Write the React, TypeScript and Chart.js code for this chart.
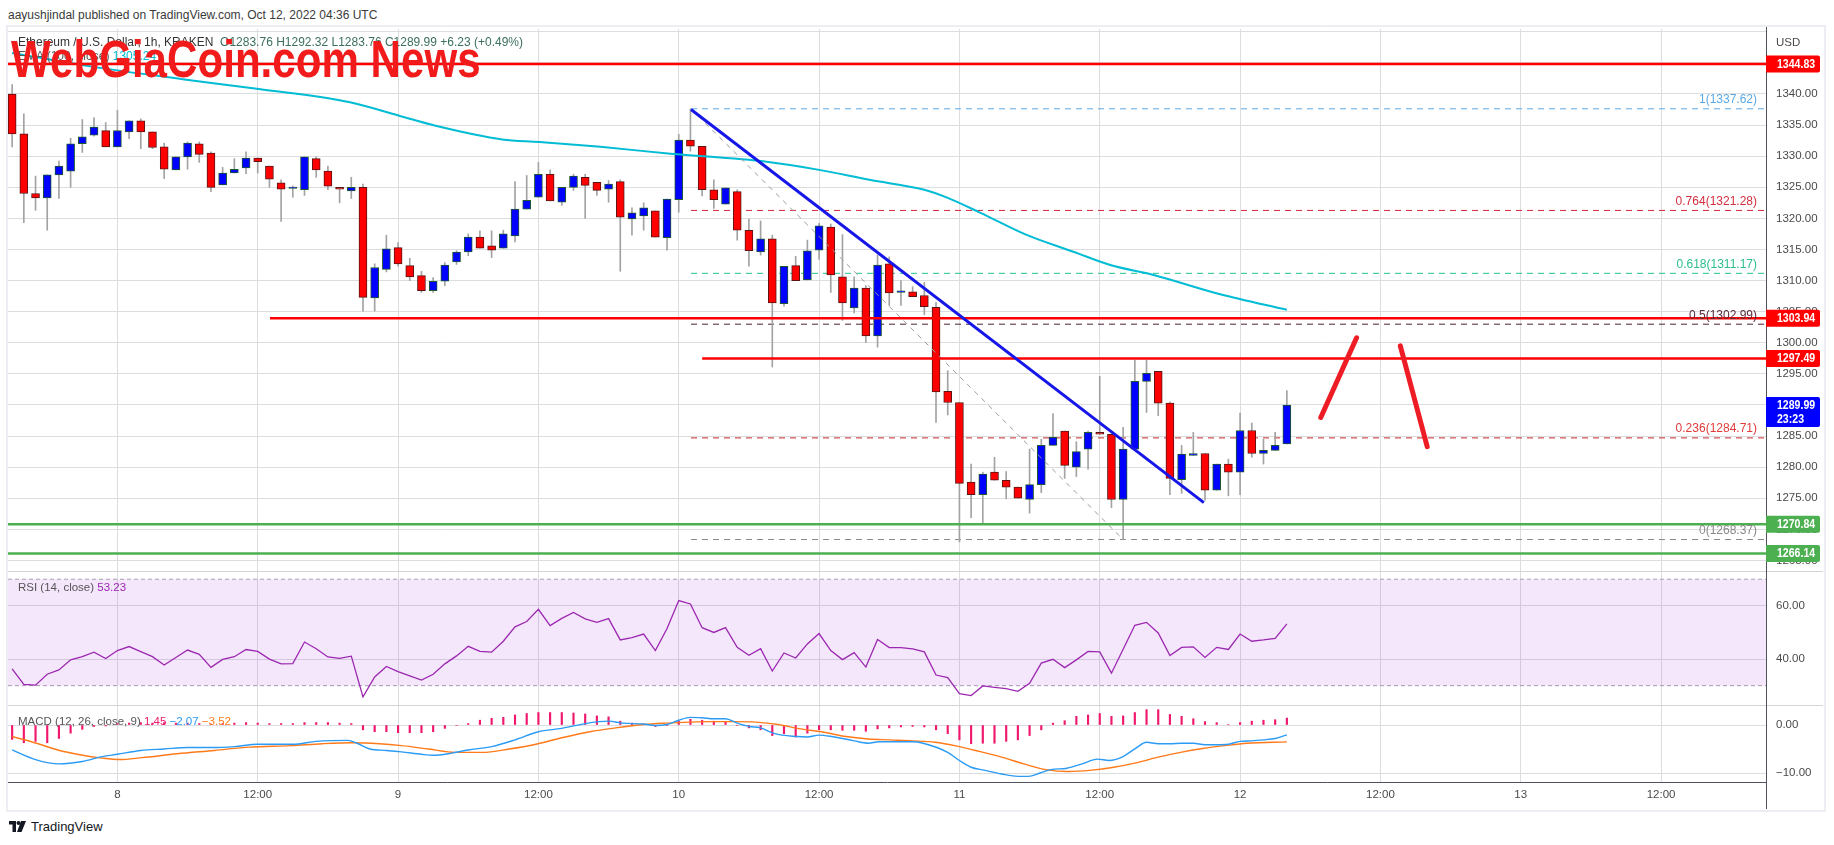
import React, { useEffect, useRef } from 'react';
import { Chart, registerables } from 'chart.js';
Chart.register(...registerables);

const FONT = "'Liberation Sans', Arial, sans-serif";

// ---- time axis (hours since Oct 8 00:00 UTC) ----
const FIRST_HOUR = -9; // first candle: Oct 7 15:00
const X_MIN = -9.354;
const X_MAX = 140.97;
const X_TICK_HOURS = [0, 12, 24, 36, 48, 60, 72, 84, 96, 108, 120, 132];
const X_TICK_LABELS = ['8', '12:00', '9', '12:00', '10', '12:00', '11', '12:00', '12', '12:00', '13', '12:00'];

// ---- candles (1h ETH/USD) ----
const OPEN = [
  1340.0, 1333.6, 1324.0, 1323.3, 1327.0, 1327.6, 1332.0, 1333.4, 1334.1, 1331.5,
  1333.9, 1335.7, 1333.9, 1331.5, 1327.8, 1329.9, 1332.0, 1330.5, 1325.4, 1327.3,
  1328.1, 1329.7, 1328.4, 1325.7, 1324.8, 1324.6, 1329.6, 1327.6, 1325.0, 1324.4,
  1325.0, 1307.2, 1311.8, 1315.3, 1312.4, 1310.8, 1308.4, 1309.9, 1313.0, 1314.6,
  1317.0, 1315.6, 1315.2, 1317.2, 1321.5, 1323.4, 1327.1, 1322.6, 1325.0, 1326.6,
  1325.8, 1324.7, 1325.9, 1319.9, 1320.4, 1321.2, 1316.9, 1323.0, 1332.6, 1331.6,
  1324.6, 1322.3, 1324.3, 1318.1, 1314.6, 1316.7, 1306.3, 1312.4, 1310.1, 1314.9,
  1318.6, 1310.6, 1305.6, 1308.8, 1301.1, 1312.7, 1308.1, 1308.2, 1307.6, 1305.7,
  1292.2, 1290.4, 1277.6, 1275.6, 1279.2, 1277.9, 1276.8, 1274.8, 1277.2, 1283.5,
  1285.8, 1280.0, 1282.9, 1285.6, 1285.3, 1274.8, 1282.9, 1293.8, 1295.4, 1290.3,
  1278.0, 1281.9, 1282.2, 1276.3, 1280.5, 1279.2, 1285.9, 1282.2, 1282.7, 1283.76,
];
const HIGH = [
  1341.5, 1336.8, 1326.8, 1327.0, 1329.2, 1332.9, 1335.9, 1336.2, 1335.4, 1337.4,
  1335.7, 1336.0, 1333.9, 1332.1, 1329.9, 1332.3, 1332.3, 1330.7, 1328.2, 1329.6,
  1330.7, 1329.7, 1328.4, 1326.2, 1325.2, 1329.9, 1329.9, 1328.4, 1325.0, 1326.6,
  1325.5, 1312.7, 1317.3, 1316.1, 1313.6, 1311.5, 1310.5, 1312.9, 1314.8, 1317.5,
  1318.0, 1318.0, 1318.1, 1325.9, 1326.9, 1329.0, 1327.8, 1325.0, 1327.1, 1327.1,
  1325.8, 1326.1, 1326.2, 1321.7, 1322.5, 1321.2, 1323.1, 1333.5, 1337.6, 1331.6,
  1326.2, 1324.9, 1324.6, 1319.9, 1319.6, 1317.3, 1312.3, 1313.9, 1316.5, 1319.2,
  1319.1, 1317.4, 1310.6, 1309.2, 1314.1, 1313.8, 1310.0, 1309.0, 1309.7, 1306.5,
  1295.5, 1290.4, 1280.5, 1279.2, 1281.6, 1279.3, 1276.8, 1282.9, 1284.5, 1288.6,
  1285.8, 1284.1, 1285.8, 1294.6, 1285.3, 1286.4, 1297.2, 1297.2, 1295.4, 1290.5,
  1283.5, 1285.6, 1282.2, 1280.5, 1281.3, 1288.7, 1287.1, 1284.5, 1285.6, 1292.32,
];
const LOW = [
  1331.5, 1319.3, 1321.3, 1318.1, 1323.2, 1325.0, 1330.6, 1333.2, 1331.5, 1331.5,
  1332.8, 1331.2, 1331.2, 1326.4, 1327.8, 1327.9, 1329.0, 1324.3, 1325.4, 1327.3,
  1327.2, 1327.3, 1325.0, 1319.5, 1323.4, 1323.7, 1326.6, 1324.6, 1322.5, 1323.2,
  1305.1, 1305.1, 1311.4, 1312.3, 1310.0, 1308.1, 1308.1, 1309.2, 1312.6, 1314.0,
  1315.2, 1313.7, 1315.2, 1316.2, 1321.5, 1323.4, 1322.8, 1322.1, 1324.5, 1320.0,
  1323.7, 1322.6, 1311.5, 1317.3, 1318.1, 1317.0, 1314.9, 1321.0, 1330.8, 1323.6,
  1321.6, 1322.3, 1316.5, 1312.3, 1314.1, 1296.1, 1305.9, 1310.0, 1310.1, 1313.4,
  1308.1, 1303.6, 1304.8, 1300.0, 1299.3, 1306.0, 1306.0, 1307.4, 1304.5, 1287.2,
  1288.4, 1268.0, 1271.9, 1270.9, 1277.9, 1274.9, 1275.0, 1272.6, 1275.9, 1283.5,
  1278.2, 1278.5, 1279.7, 1285.3, 1273.5, 1268.37, 1282.9, 1288.8, 1288.3, 1275.6,
  1275.8, 1281.9, 1274.7, 1276.3, 1275.4, 1275.6, 1281.6, 1280.5, 1282.7, 1283.76,
];
const CLOSE = [
  1333.6, 1324.0, 1323.3, 1327.0, 1328.4, 1332.0, 1333.1, 1334.7, 1331.5, 1334.1,
  1335.7, 1333.9, 1331.4, 1327.9, 1329.9, 1332.1, 1330.3, 1325.0, 1327.3, 1327.9,
  1329.7, 1329.1, 1326.3, 1324.7, 1324.9, 1329.9, 1327.8, 1325.2, 1324.7, 1325.0,
  1307.3, 1312.1, 1315.1, 1312.7, 1310.6, 1308.4, 1309.9, 1312.5, 1314.6, 1317.0,
  1315.2, 1314.9, 1317.5, 1321.5, 1322.9, 1327.1, 1322.8, 1325.0, 1326.8, 1325.3,
  1324.5, 1325.5, 1320.2, 1320.9, 1321.7, 1317.0, 1323.1, 1332.6, 1331.6, 1324.6,
  1323.0, 1324.9, 1318.1, 1314.8, 1316.7, 1306.4, 1312.3, 1310.0, 1314.8, 1318.8,
  1310.9, 1306.4, 1308.8, 1301.1, 1312.5, 1308.0, 1308.3, 1307.4, 1305.8, 1292.1,
  1290.4, 1277.4, 1275.6, 1278.9, 1277.9, 1276.8, 1275.0, 1277.2, 1283.5, 1284.8,
  1280.3, 1282.5, 1285.6, 1285.3, 1274.8, 1282.9, 1293.8, 1295.1, 1290.3, 1278.2,
  1282.1, 1282.2, 1276.3, 1280.5, 1279.2, 1285.9, 1282.2, 1282.7, 1283.5, 1289.99,
];

// EMA(100): [hour, value]
const EMA_POINTS = [
  [-9, 1346.6], [-2.2, 1344.4], [5.9, 1342.3], [12.1, 1340.8], [19.8, 1338.7], [24.1, 1336.5],
  [27.2, 1334.9], [32.9, 1332.7], [36.1, 1332.3], [41.3, 1331.5], [47.3, 1330.4], [55.5, 1329.1],
  [60, 1327.8], [64.3, 1326.2], [69, 1324.6], [71, 1323.3], [73.8, 1320.9], [77.8, 1317.3],
  [81.8, 1314.6], [84.9, 1312.5], [88.6, 1310.9], [94.3, 1307.8], [100, 1305.3],
];

// Levels
const RESISTANCE_LEVELS = [1344.83, 1303.94, 1297.49];
const RESISTANCE_START = [X_MIN, 13.05, 50.0];
const SUPPORT_LEVELS = [1270.84, 1266.14];
const FIB_RATIOS = ['1', '0.764', '0.618', '0.5', '0.236', '0'];
const FIB_VALUES = [1337.62, 1321.28, 1311.17, 1302.99, 1284.71, 1268.37];
const FIB_COLORS = ['#5aa9e6', '#d7263d', '#22c38e', '#4a2236', '#c62828', '#8a8a8a'];
const FIB_LABEL_COLORS = ['#5aa9e6', '#d32f3f', '#2bbf8a', '#5b2a3e', '#e03a3a', '#8a8a8a'];
const FIB_START = 49.05;
const FIB_DIAGONAL = [[49.05, 1337.62], [86, 1268.37]];
const TRENDLINE = [[49.05, 1337.5], [92.9, 1274.3]];
const ARROW_UP = [[102.9, 1288.0], [105.96, 1300.8]];
const ARROW_DOWN = [[109.7, 1299.5], [112.0, 1283.3]];

// RSI(14)
const RSI = [
  36.3, 30.5, 30.2, 34.3, 35.9, 39.7, 40.9, 42.6, 40.2, 43.2,
  44.7, 42.8, 40.9, 37.8, 40.6, 43.4, 41.8, 36.9, 39.9, 40.9,
  43.6, 42.9, 40.0, 38.2, 38.3, 46.4, 43.9, 40.8, 40.3, 41.1,
  25.8, 33.3, 37.2, 35.3, 33.7, 32.1, 34.3, 38.2, 41.2, 44.8,
  42.9, 42.6, 46.7, 52.1, 54.1, 58.7, 52.6, 55.3, 57.5, 55.1,
  53.8, 55.2, 47.2, 48.1, 49.4, 43.2, 51.5, 62.0, 60.7, 51.8,
  50.0, 51.8, 44.4, 41.4, 43.9, 35.5, 42.3, 40.4, 45.7, 49.6,
  43.2, 39.8, 42.4, 37.0, 47.4, 44.3, 44.3, 43.8, 42.7, 34.0,
  33.0, 27.0, 26.3, 29.9, 29.4, 28.9, 27.9, 30.9, 38.5, 39.9,
  36.8, 39.7, 42.9, 42.7, 34.7, 43.7, 52.7, 53.8, 49.8, 41.3,
  44.4, 44.6, 40.6, 44.4, 43.6, 49.4, 46.7, 47.2, 47.8, 53.23,
];

// MACD(12,26,9)
const MACD_HIST = [
  -3.0, -3.7, -3.4, -3.7, -2.8, -1.7, -0.9, -0.3, -0.2, 0.3,
  0.4, 0.5, 0.4, 0.5, 0.4, 0.4, 0.3, 0.2, 0.3, 0.4,
  0.5, 0.4, 0.3, 0.3, 0.3, 0.5, 0.5, 0.5, 0.4, 0.3,
  -1.0, -1.4, -1.4, -1.6, -1.6, -1.6, -1.4, -0.7, -0.1, 0.3,
  1.0, 1.4, 1.6, 2.1, 2.4, 2.6, 2.6, 2.6, 2.5, 2.3,
  1.9, 1.7, 0.8, 0.4, 0.2, -0.3, -0.1, 0.8, 1.2, 1.0,
  0.8, 0.6, -0.1, -0.6, -1.0, -2.2, -1.8, -2.5, -1.7, -1.0,
  -1.0, -1.1, -1.1, -1.3, -0.8, -0.6, -0.4, -0.3, -0.4, -1.0,
  -1.8, -3.1, -3.9, -3.8, -3.8, -3.4, -3.1, -2.2, -1.0, 0.4,
  0.9, 1.8, 2.1, 2.4, 1.8, 1.9, 2.6, 3.2, 3.2, 2.2,
  1.8, 1.3, 0.7, 0.5, 0.1, 0.5, 0.8, 1.0, 1.1, 1.45,
];
const MACD_LINE = [
  [-9, -5.2], [-7, -7.2], [-5, -8.1], [-3, -7.6], [-1.3, -6.6], [0, -6.1], [2, -5.3], [4, -5.0],
  [6, -4.7], [8, -4.7], [10, -4.5], [12, -4.0], [15, -4.0], [17, -3.4], [19.7, -3.2], [20.5, -3.8],
  [21.6, -5.0], [23, -5.3], [24.3, -5.6], [26, -6.1], [27, -6.3], [28.5, -5.9], [30, -5.2], [32, -4.5],
  [34, -3.1], [36, -1.4], [38, -0.7], [40, 0.3], [42, 0.8], [43.2, 0.4], [45, 0.2], [46, -0.1],
  [47, 0.1], [48, 1.0], [49, 1.6], [50, 1.5], [51, 1.3], [52, 1.3], [53, 0.4], [54, -0.3],
  [55, -0.6], [56.2, -1.8], [58.1, -2.4], [59, -2.5], [60, -2.1], [61.1, -2.4], [63, -3.3], [64.2, -3.8],
  [65.1, -3.5], [68, -3.5], [68.9, -3.8], [71, -5.7], [72, -7.4], [73, -8.8], [74.1, -9.4], [75.6, -10.2],
  [77, -10.7], [77.9, -10.7], [78.9, -10.0], [79.8, -9.3], [81.2, -9.0], [82.5, -8.1], [83.8, -7.1], [84.8, -7.4],
  [85.9, -6.7], [87.1, -4.8], [88, -3.6], [89, -3.9], [90, -3.9], [91, -3.8], [92, -3.8], [93, -4.1],
  [94, -4.1], [95, -4.0], [96, -3.4], [97, -3.3], [98, -3.1], [99, -2.8], [100, -2.07],
];
const SIGNAL_LINE = [
  [-9, -2.4], [-6.9, -3.8], [-5.1, -5.2], [-3.2, -6.2], [-1.3, -6.9], [0.2, -7.2], [2.1, -6.8], [5.1, -6.0],
  [8.3, -5.3], [11.3, -4.6], [14.8, -4.3], [17.5, -3.9], [20.1, -3.7], [22.4, -3.9], [24.3, -4.3], [26.6, -5.0],
  [28.9, -5.7], [31.2, -5.7], [33.5, -5.0], [35.8, -4.0], [38.1, -2.6], [40.4, -1.4], [42.6, -0.6], [45, 0.1],
  [47, 0.4], [48.9, 0.6], [50.8, 0.7], [52.7, 0.7], [54.6, 0.6], [56.5, 0.1], [58.4, -0.8], [60.4, -1.5],
  [62.3, -2.4], [64.2, -2.9], [66.1, -3.1], [68, -3.3], [69.9, -3.6], [71.8, -4.4], [73.7, -5.5], [75.6, -6.7],
  [77.5, -8.1], [79.4, -9.3], [81.3, -9.7], [83.3, -9.4], [85.2, -8.8], [87.1, -7.9], [89, -6.7], [90.9, -5.7],
  [92.8, -4.9], [94.7, -4.3], [96.6, -3.8], [100, -3.52],
];

// axis ranges / ticks
const PRICE_MIN = 1263.31;
const PRICE_MAX = 1350.45;
const PRICE_TICKS = [1265, 1270, 1275, 1280, 1285, 1290, 1295, 1300, 1305, 1310, 1315, 1320, 1325, 1330, 1335, 1340, 1345, 1350];
const RSI_MIN = 22.74;
const RSI_MAX = 73.1;
const RSI_TICKS = [40, 60];
const RSI_BAND = [70, 30];
const MACD_MIN = -11.875;
const MACD_MAX = 4.17;
const MACD_TICKS = [-10, 0];

const BADGES = [
  { v: 1344.83, bg: '#ff0000' },
  { v: 1303.94, bg: '#ff0000' },
  { v: 1297.49, bg: '#ff0000' },
  { v: 1289.99, bg: '#0000ff', sub: '23:23' },
  { v: 1270.84, bg: '#4caf50' },
  { v: 1266.14, bg: '#4caf50' },
];

const UP = '#0000ff';
const DOWN = '#ff0000';
const UP_BORDER = '#1d5a2c';
const DOWN_BORDER = '#5a1414';
const GRID = '#dcdde0';
const AXIS_TEXT = '#4a4a4a';
const AXIS_FONT = { size: 11.5, family: FONT };

const pts = (arr: number[][]) => arr.map(([x, y]) => ({ x, y }));
const hline = (v: number, start: number) => [{ x: start, y: v }, { x: X_MAX, y: v }];

function narrowText(ctx: CanvasRenderingContext2D, s: string, x: number, y: number, sx: number) {
  ctx.save();
  ctx.translate(x, y);
  ctx.scale(sx, 1);
  ctx.fillText(s, 0, 0);
  ctx.restore();
}

const overlayPlugin = {
  id: 'tvOverlay',
  afterDraw(chart: any) {
    const { ctx, chartArea, scales } = chart;
    const yP = scales.y;
    const yR = scales.rsi;
    const yM = scales.macd;
    ctx.save();
    // pane separators
    ctx.strokeStyle = '#d3d4d8';
    ctx.lineWidth = 1;
    [yR.top, yM.top].forEach((yy: number) => {
      const py = Math.round(yy) + 0.5;
      ctx.beginPath();
      ctx.moveTo(chartArea.left, py);
      ctx.lineTo(chart.width, py);
      ctx.stroke();
    });
    // price scale border
    const ax = Math.round(chartArea.right) + 0.5;
    ctx.strokeStyle = '#50535e';
    ctx.beginPath();
    ctx.moveTo(ax, chartArea.top - 2);
    ctx.lineTo(ax, chart.height);
    ctx.stroke();
    // USD
    ctx.fillStyle = AXIS_TEXT;
    ctx.font = `11.5px ${FONT}`;
    ctx.textAlign = 'left';
    ctx.textBaseline = 'middle';
    ctx.fillText('USD', chartArea.right + 10, yP.getPixelForValue(1348.2));
    // fib labels
    ctx.font = `12px ${FONT}`;
    ctx.textAlign = 'right';
    ctx.textBaseline = 'bottom';
    FIB_VALUES.forEach((v, i) => {
      const y = yP.getPixelForValue(v);
      ctx.fillStyle = FIB_LABEL_COLORS[i];
      ctx.fillText(`${FIB_RATIOS[i]}(${v.toFixed(2)})`, chartArea.right - 9, y - 3);
    });
    // price badges
    BADGES.forEach((b) => {
      const y = yP.getPixelForValue(b.v);
      const h = b.sub ? 30 : 17;
      const top = b.sub ? y - 8 : y - 8.5;
      ctx.fillStyle = b.bg;
      ctx.beginPath();
      ctx.roundRect(chartArea.right, top, 54, h, [0, 2, 2, 0]);
      ctx.fill();
      ctx.fillStyle = '#ffffff';
      ctx.font = `bold 12px ${FONT}`;
      ctx.textAlign = 'left';
      ctx.textBaseline = 'middle';
      narrowText(ctx, b.v.toFixed(2), chartArea.right + 11, y + 0.5, 0.88);
      if (b.sub) narrowText(ctx, b.sub, chartArea.right + 11, y + 15, 0.88);
    });
    ctx.restore();
  },
};

function buildConfig(): any {
  const hours = OPEN.map((_, i) => FIRST_HOUR + i);
  const isUp = OPEN.map((o, i) => CLOSE[i] >= o);
  const lineBase = { type: 'line', pointRadius: 0, fill: false, spanGaps: true };

  const datasets: any[] = [
    // RSI band
    { ...lineBase, yAxisID: 'rsi', order: 30, data: hline(RSI_BAND[0], X_MIN), borderColor: '#a79fb0', borderWidth: 1, borderDash: [4, 3], fill: '+1', backgroundColor: 'rgba(155,38,230,0.11)' },
    { ...lineBase, yAxisID: 'rsi', order: 30, data: hline(RSI_BAND[1], X_MIN), borderColor: '#a79fb0', borderWidth: 1, borderDash: [4, 3] },
    // Fib levels
    ...FIB_VALUES.map((v, i) => ({ ...lineBase, yAxisID: 'y', order: 25, data: hline(v, FIB_START), borderColor: FIB_COLORS[i], borderWidth: 1, borderDash: [6, 5] })),
    // wicks
    { type: 'bar', yAxisID: 'y', order: 20, grouped: false, barThickness: 1, data: hours.map((h, i) => ({ x: h, y: [LOW[i], HIGH[i]] })), backgroundColor: '#a3a3a3', borderWidth: 0 },
    // bodies
    { type: 'bar', yAxisID: 'y', order: 19, grouped: false, barThickness: 8, minBarLength: 1.5, borderSkipped: false, borderWidth: 1,
      data: hours.map((h, i) => ({ x: h, y: [OPEN[i], CLOSE[i]] })),
      backgroundColor: isUp.map((u) => (u ? UP : DOWN)), borderColor: isUp.map((u) => (u ? UP_BORDER : DOWN_BORDER)) },
    // EMA 100
    { ...lineBase, yAxisID: 'y', order: 15, data: pts(EMA_POINTS), borderColor: '#00bcd4', borderWidth: 2, cubicInterpolationMode: 'monotone' },
    // fib diagonal
    { ...lineBase, yAxisID: 'y', order: 14, data: pts(FIB_DIAGONAL), borderColor: '#9a9a9a', borderWidth: 1, borderDash: [5, 5] },
    // horizontal resistance/support
    ...RESISTANCE_LEVELS.map((v, i) => ({ ...lineBase, yAxisID: 'y', order: 12, data: hline(v, RESISTANCE_START[i]), borderColor: '#ff0000', borderWidth: 2.5 })),
    ...SUPPORT_LEVELS.map((v) => ({ ...lineBase, yAxisID: 'y', order: 12, data: hline(v, X_MIN), borderColor: '#4caf50', borderWidth: 2.5 })),
    // trendline
    { ...lineBase, yAxisID: 'y', order: 10, data: pts(TRENDLINE), borderColor: '#1616e8', borderWidth: 3 },
    // hand-drawn arrows
    { ...lineBase, yAxisID: 'y', order: 5, data: pts(ARROW_UP), borderColor: '#ee1c25', borderWidth: 5, borderCapStyle: 'round' },
    { ...lineBase, yAxisID: 'y', order: 5, data: pts(ARROW_DOWN), borderColor: '#ee1c25', borderWidth: 5, borderCapStyle: 'round' },
    // RSI
    { ...lineBase, yAxisID: 'rsi', order: 6, data: hours.map((h, i) => ({ x: h, y: RSI[i] })), borderColor: '#9c27b0', borderWidth: 1.3 },
    // MACD
    { type: 'bar', yAxisID: 'macd', order: 8, grouped: false, barThickness: 1.5, data: hours.map((h, i) => ({ x: h, y: MACD_HIST[i] })), backgroundColor: '#f0186c', borderWidth: 0 },
    { ...lineBase, yAxisID: 'macd', order: 7, data: pts(SIGNAL_LINE), borderColor: '#ff7a1a', borderWidth: 1.4, cubicInterpolationMode: 'monotone' },
    { ...lineBase, yAxisID: 'macd', order: 6, data: pts(MACD_LINE), borderColor: '#2b9bf4', borderWidth: 1.4, cubicInterpolationMode: 'monotone' },
  ];

  const yCommon = {
    type: 'linear',
    axis: 'y',
    position: 'right',
    stack: 'panes',
    grid: { color: GRID, drawTicks: false },
    border: { display: false },
    afterFit: (s: any) => { s.width = 57; },
  };

  return {
    type: 'bar',
    data: { datasets },
    plugins: [overlayPlugin],
    options: {
      animation: false,
      responsive: false,
      events: [],
      layout: { padding: { left: 8, top: 29, right: 0, bottom: 0 } },
      plugins: { legend: { display: false }, tooltip: { enabled: false } },
      scales: {
        x: {
          type: 'linear', min: X_MIN, max: X_MAX, offset: false,
          grid: { color: GRID, drawTicks: false, offset: false },
          border: { display: true, color: '#50535e' },
          ticks: { autoSkip: false, maxRotation: 0, padding: 6, color: AXIS_TEXT, font: AXIS_FONT,
            callback: (v: number) => { const k = X_TICK_HOURS.indexOf(v); return k >= 0 ? X_TICK_LABELS[k] : ''; } },
          afterBuildTicks: (s: any) => { s.ticks = X_TICK_HOURS.map((value) => ({ value })); },
          afterFit: (s: any) => { s.height = 27; },
        },
        y: {
          ...yCommon, stackWeight: 542, min: PRICE_MIN, max: PRICE_MAX,
          ticks: { autoSkip: false, padding: 10, color: AXIS_TEXT, font: AXIS_FONT, callback: (v: number) => (v === 1350 ? '' : Number(v).toFixed(2)) },
          afterBuildTicks: (s: any) => { s.ticks = PRICE_TICKS.map((value) => ({ value })); },
        },
        rsi: {
          ...yCommon, stackWeight: 134, min: RSI_MIN, max: RSI_MAX,
          ticks: { autoSkip: false, padding: 10, color: AXIS_TEXT, font: AXIS_FONT, callback: (v: number) => Number(v).toFixed(2) },
          afterBuildTicks: (s: any) => { s.ticks = RSI_TICKS.map((value) => ({ value })); },
        },
        macd: {
          ...yCommon, stackWeight: 77, min: MACD_MIN, max: MACD_MAX,
          ticks: { autoSkip: false, padding: 10, color: AXIS_TEXT, font: AXIS_FONT, callback: (v: number) => (v < 0 ? '\u2212' + Math.abs(v).toFixed(2) : Number(v).toFixed(2)) },
          afterBuildTicks: (s: any) => { s.ticks = MACD_TICKS.map((value) => ({ value })); },
        },
      },
    },
  };
}

const txt = (extra: React.CSSProperties): React.CSSProperties => ({
  position: 'absolute', whiteSpace: 'nowrap', fontFamily: FONT, lineHeight: '15px', pointerEvents: 'none', ...extra,
});

export default function App() {
  const ref = useRef<HTMLCanvasElement>(null);
  useEffect(() => {
    Chart.defaults.font.family = FONT;
    const chart = new Chart(ref.current as HTMLCanvasElement, buildConfig());
    return () => chart.destroy();
  }, []);

  return (
    <div style={{ position: 'absolute', left: 0, top: 0, width: 1834, height: 845, background: '#ffffff', overflow: 'hidden', fontFamily: FONT }}>
      <div style={txt({ left: 8, top: 8, fontSize: 12, color: '#3a3a3a' })}>
        aayushjindal published on TradingView.com, Oct 12, 2022 04:36 UTC
      </div>
      <div style={{ position: 'absolute', left: 6, top: 25, width: 1820, height: 787, border: '2px solid #eceef3', boxSizing: 'border-box' }} />
      <canvas ref={ref} width={1823} height={809} style={{ position: 'absolute', left: 0, top: 0 }} />
      <div style={txt({ left: 18, top: 35, fontSize: 12, color: '#333' })}>
        Ethereum / U.S. Dollar, 1h, KRAKEN{'\u00a0\u00a0'}
        <span style={{ color: '#3b6f5e' }}>O1283.76 H1292.32 L1283.76 C1289.99 +6.23 (+0.49%)</span>
      </div>
      <div style={txt({ left: 18, top: 49, fontSize: 12, color: '#555' })}>
        EMA (100, close) <span style={{ color: '#00bcd4' }}>1305.24</span>
      </div>
      <div style={txt({ left: 18, top: 580, fontSize: 11.5, color: '#555' })}>
        RSI (14, close) <span style={{ color: '#9c27b0' }}>53.23</span>
      </div>
      <div style={txt({ left: 18, top: 714, fontSize: 11.5, color: '#555' })}>
        MACD (12, 26, close, 9){' '}
        <span style={{ color: '#f0186c' }}>1.45</span>{' '}
        <span style={{ color: '#2b9bf4' }}>{'\u22122.07'}</span>{' '}
        <span style={{ color: '#ff7a1a' }}>{'\u22123.52'}</span>
      </div>
      <div style={txt({ left: 11, top: 33, fontSize: 52, lineHeight: '52px', fontWeight: 'bold', color: '#f21b1b', transform: 'scaleX(0.81)', transformOrigin: 'left top' })}>
        WebGiaCoin.com News
      </div>
      <svg style={{ position: 'absolute', left: 9, top: 821 }} width="18" height="12" viewBox="0 0 18 12">
        <path d="M0 0 H7 V11 H3.5 V3.5 H0 Z" fill="#131722" />
        <circle cx="9.5" cy="2" r="2" fill="#131722" />
        <path d="M12 0 H17 L12.5 11 H8 Z" fill="#131722" />
      </svg>
      <div style={txt({ left: 31, top: 819, fontSize: 13, color: '#131722' })}>TradingView</div>
    </div>
  );
}
